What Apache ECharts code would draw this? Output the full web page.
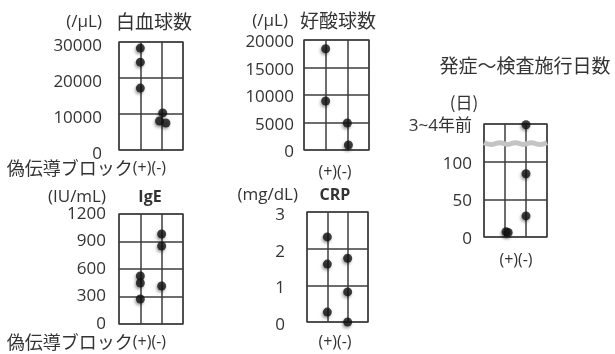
<!DOCTYPE html>
<html><head><meta charset="utf-8">
<script src="https://cdn.jsdelivr.net/npm/echarts@6/dist/echarts.min.js"></script>
<style>html,body{margin:0;padding:0;background:#fff}#c{width:615px;height:354px}</style>
</head><body><div id="c"></div>
<script>
// ---- data ----
const groupLabels = ['(+)', '(-)'];   // 偽伝導ブロック (+) / (-)
const groupName = '偽伝導ブロック';
const groupX = [1, 2];
// 白血球数 (/μL)
const wbcPlus = [28300, 24400, 17200];
const wbcPlusJit = [0, 0, 0];
const wbcMinus = [10300, 8050, 7500];
const wbcMinusJit = [0.05, -0.1, 0.2];
// 好酸球数 (/μL)
const eosPlus = [18400, 8900];
const eosPlusJit = [0, 0];
const eosMinus = [4900, 900];
const eosMinusJit = [0, 0.05];
// IgE (IU/mL)
const igePlus = [524, 447, 273];
const igePlusJit = [0, 0, 0];
const igeMinus = [982, 851, 415];
const igeMinusJit = [0, 0, 0];
// CRP (mg/dL)
const crpPlus = [2.32, 1.58, 0.27];
const crpPlusJit = [0, 0, 0];
const crpMinus = [1.74, 0.82, 0.0];
const crpMinusJit = [0, 0, 0];
// 発症～検査施行日数 (日); 150 = 3~4年前 (axis broken near 124)
const dayPlus = [7, 6];
const dayPlusJit = [0.05, 0.15];
const dayMinus = [149, 84, 28];
const dayMinusJit = [0, 0, 0];
const dayTopLabel = '3~4年前';
const dayBreakAt = 124;

const FONT = "'Open Sans','Noto Sans CJK JP',sans-serif";
const CJK = "'Noto Sans CJK JP',sans-serif";
const TXT = '#333';

function pts(vals, jit, gi) { return vals.map((v, i) => [groupX[gi] + jit[i], v]); }

const grids = [
  {left: 119, top: 42, width: 64, height: 108},
  {left: 304, top: 40, width: 65, height: 110},
  {left: 119, top: 214, width: 64, height: 110},
  {left: 307, top: 212, width: 61, height: 110},
  {left: 484, top: 124, width: 63, height: 113}
];
const yCfg = [
  {min: 0, max: 30000, interval: 10000, margin: 17, lh: 8},
  {min: 0, max: 20000, interval: 5000, margin: 10, lh: 5},
  {min: 0, max: 1200, interval: 300, margin: 13, lh: 0},
  {min: 0, max: 3, interval: 1, margin: 22, lh: 6},
  {min: 0, max: 150, interval: 50, margin: 12, lh: 4, fmt: v => v === 150 ? dayTopLabel : String(v)}
];
const lineC = '#3c3c3c';

const option = {
  animation: false,
  backgroundColor: '#fff',
  grid: grids.map(g => Object.assign({show: true, borderColor: '#666', borderWidth: 1.5, backgroundColor: 'transparent'}, g)),
  xAxis: grids.map((g, i) => ({
    gridIndex: i, type: 'value', min: 0, max: 3, interval: 1,
    axisLine: {show: false}, axisTick: {show: false},
    splitLine: {show: true, lineStyle: {color: lineC, width: 1.5}},
    axisLabel: {show: false}
  })),
  yAxis: yCfg.map((c, i) => {
    const lab = {margin: c.margin, color: TXT, fontFamily: FONT, fontSize: 17,
      formatter: c.fmt || (v => String(v))};
    if (c.lh > 0) { lab.verticalAlign = 'top'; lab.lineHeight = c.lh; }
    return {
      gridIndex: i, type: 'value', min: c.min, max: c.max, interval: c.interval,
      axisLine: {show: false}, axisTick: {show: false},
      splitLine: {show: true, lineStyle: {color: lineC, width: 1.5}},
      axisLabel: lab
    };
  }),
  series: [],
  graphic: []
};

const dotStyle = {color: '#111', shadowColor: 'rgba(0,0,0,0.45)', shadowBlur: 3, shadowOffsetX: -1, shadowOffsetY: 2};
function addScatter(i, data) {
  option.series.push({type: 'scatter', xAxisIndex: i, yAxisIndex: i, data: data, symbolSize: 9, itemStyle: dotStyle, z: 5});
}
addScatter(0, pts(wbcPlus, wbcPlusJit, 0)); addScatter(0, pts(wbcMinus, wbcMinusJit, 1));
addScatter(1, pts(eosPlus, eosPlusJit, 0)); addScatter(1, pts(eosMinus, eosMinusJit, 1));
addScatter(2, pts(igePlus, igePlusJit, 0)); addScatter(2, pts(igeMinus, igeMinusJit, 1));
addScatter(3, pts(crpPlus, crpPlusJit, 0)); addScatter(3, pts(crpMinus, crpMinusJit, 1));
addScatter(4, pts(dayPlus, dayPlusJit, 0)); addScatter(4, pts(dayMinus, dayMinusJit, 1));

// axis-break wave on days panel
const waveX = [0, 0.375, 0.75, 1.125, 1.5, 1.875, 2.25, 2.625, 3];
option.series.push({type: 'line', xAxisIndex: 4, yAxisIndex: 4, smooth: true, symbol: 'none', silent: true, z: 3,
  lineStyle: {color: '#c4c4c4', width: 5},
  data: waveX.map((x, k) => [x, dayBreakAt + (k % 2 === 0 ? 1.2 : -1.2)])});

function txt(x, y, s, opts) {
  option.graphic.push({type: 'text', x: x, y: y, style: Object.assign({text: s, fill: TXT, font: '17px ' + FONT, textAlign: 'left', textVerticalAlign: 'middle'}, opts || {})});
}
// panel titles
txt(102, 22, '(/μL)', {textAlign: 'right'});
txt(116, 22, '白血球数', {font: '19px ' + CJK});
txt(288, 21, '(/μL)', {textAlign: 'right'});
txt(300, 21, '好酸球数', {font: '19px ' + CJK});
txt(106, 197, '(IU/mL)', {textAlign: 'right'});
txt(150, 197, 'IgE', {textAlign: 'center', font: 'bold 16px ' + FONT});
txt(298, 195, '(mg/dL)', {textAlign: 'right'});
txt(335, 195, 'CRP', {textAlign: 'center', font: 'bold 16px ' + FONT});
txt(525, 66, '発症～検査施行日数', {textAlign: 'center', font: '19px ' + CJK});
txt(464, 103, '(日)', {textAlign: 'center', font: '17px ' + CJK});
// x-axis group labels
const pm = groupLabels.join('');
const XF = "16px 'Open Sans','Noto Sans CJK JP',sans-serif";
const richX = {a: {font: '18px ' + CJK, fill: TXT}, b: {font: XF, fill: TXT}};
txt(166, 168, '{a|' + groupName + '}{b|' + pm + '}', {textAlign: 'right', rich: richX});
txt(335, 172, pm, {textAlign: 'center', font: XF});
txt(166, 342, '{a|' + groupName + '}{b|' + pm + '}', {textAlign: 'right', rich: richX});
txt(335, 342, pm, {textAlign: 'center', font: XF});
txt(516, 260, pm, {textAlign: 'center', font: XF});

echarts.init(document.getElementById('c')).setOption(option);
</script></body></html>
